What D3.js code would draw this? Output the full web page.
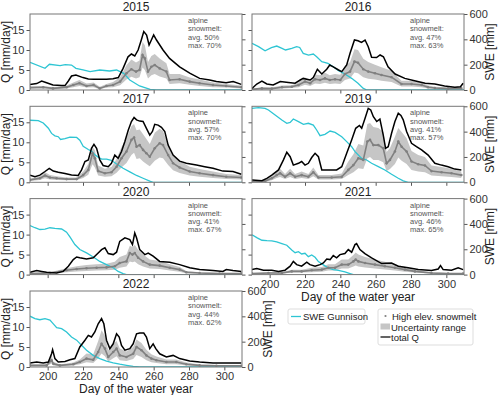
<!DOCTYPE html>
<meta charset="utf-8">
<style>
body { margin: 0; background: #fff; }
svg { font-family: "Liberation Sans", Arial, sans-serif; }
.frame { fill: none; stroke: #777; stroke-width: 1; }
.axis path { display: none; }
.axis line { stroke: #555; }
.axis text { fill: #333; font-size: 11px; }
.swe { fill: none; stroke: #2ec5d3; stroke-width: 1.3px; }
.totq { fill: none; stroke: #000; stroke-width: 1.5px; }
.melt { fill: none; stroke: #808080; stroke-width: 1.6px; }
.band { fill: #c6c6c6; }
</style>
<body>
<svg width="500" height="395"></svg>
<script src="https://cdn.jsdelivr.net/npm/d3@7"></script>
<script>

// [day, SWE mm]
var swe2015 = [[190,218],[198.5,171],[201,203],[207,192],[210,200],[213.5,197],[216,171],[220,158],[224,145],[229.5,158],[235,150],[239,158],[243,131],[246.5,79],[252,32],[258,5],[261.5,0],[310,0]];
var swe2016 = [[190,368],[193.7,342],[197.4,310],[201,334],[204,347],[207,329],[209,316],[212.5,329],[215.3,342],[217,336],[219,289],[222,276],[224.7,284],[226.6,263],[229.5,224],[233,210],[236,184],[239,153],[242.6,126],[246.4,92],[250,53],[253,13],[255,0],[310,0]];
var swe2017 = [[190,490],[194.7,487],[197.5,468],[200.4,427],[202.2,386],[204.1,367],[206,360],[207.3,338],[209.8,344],[212.6,357],[216.4,354],[218.2,332],[220.1,284],[223,259],[224.8,246],[226.7,218],[228.6,199],[230.5,183],[233.3,183],[236.1,174],[239,145],[242.7,111],[246.5,82],[250.3,54],[254,32],[257.8,9],[259.7,0],[310,0]];
var swe2019 = [[190,584],[193.7,589],[197.4,584],[199.3,571],[203.1,531],[206.9,492],[209.7,466],[211.6,473],[213.4,500],[216.3,479],[219.1,458],[221.9,466],[224.7,452],[226.6,413],[228.5,368],[231.3,379],[234.2,405],[237,394],[240.8,360],[243.6,321],[246.4,281],[248.3,242],[252.1,189],[254.9,176],[257.7,150],[261.5,124],[265.2,97],[269,63],[272.8,32],[275.6,11],[278.4,0],[310,0]];
var swe2020 = [[190,387],[192.8,370],[195.6,356],[198.5,359],[201.3,370],[204.1,365],[207.9,360],[210.7,335],[212.6,297],[215.4,237],[218.2,198],[222,171],[225.8,139],[229.5,104],[233.3,79],[237.1,54],[239.9,25],[242.7,8],[244.6,0],[310,0]];
var swe2021 = [[190,315],[192.7,292],[195.6,271],[198.4,268],[201.2,266],[204,258],[206.9,245],[209.7,232],[212.5,194],[214.4,173],[216.3,181],[218.1,163],[220,168],[221.9,142],[223.8,155],[225.7,137],[227.6,103],[230.4,77],[233.2,52],[236,39],[238.9,34],[242.6,21],[245.5,8],[247.4,0],[310,0]];
var swe2022 = [[190,401],[192.8,382],[195.6,373],[198.5,382],[201.3,370],[203.2,341],[205.1,310],[207.9,303],[210.7,276],[213.5,237],[216.4,212],[219.2,171],[222,133],[225.8,92],[229.5,66],[233.3,47],[237.1,32],[240.8,22],[244.6,13],[248.4,5],[252.1,0],[310,0]];

// [day, total Q mm/day]
var q2015 = [[190,1.4],[193.8,1.6],[196.6,2.25],[199.4,1.8],[203,1.25],[208,1.1],[209.8,1.1],[211.7,2.25],[213.5,3.5],[216,3.75],[220,3.1],[223,2.75],[226,2.7],[229.5,2.7],[233.3,2.7],[237,2.8],[240,3.1],[242.7,5.4],[245.5,8.3],[247.4,9],[249.3,8.5],[251.2,10],[253,12.5],[254.4,14.6],[256,13.75],[257.4,11.25],[258.7,12.5],[260,13.75],[261.6,12.5],[265.3,10],[269,7.9],[274.7,5.8],[280.4,4.2],[286,2.9],[291.7,2.5],[295.5,2.1],[301,1.8],[305,2.1],[309.6,1.4]];
var q2016 = [[190,0.4],[192.7,1.5],[195.6,2.25],[198.4,1.5],[202,1.25],[206,2.1],[210.6,1.9],[214.4,1.7],[217.3,2.5],[219,2.9],[221,2.7],[222.9,2.5],[224.7,3.1],[227,5.2],[229.5,4],[232.3,5.2],[234,6.25],[236,5.8],[239,5],[240.8,4.6],[243.6,6.25],[245.5,9.2],[248,12.5],[250,12.3],[252,11.9],[254,12.5],[255.8,10.8],[257.7,8.2],[260.5,8.1],[262.5,8.75],[264.4,8.3],[267,5.8],[271,4],[276.5,2.9],[282,2.3],[288,1.7],[293.5,1.5],[299,1],[304.8,0.7],[308,0.8],[309.5,1.7]];
var q2017 = [[190,1.8],[192.8,1.4],[195.6,1.8],[198.5,2.7],[200.9,3.5],[203.2,2.8],[206,2.5],[209.8,2.2],[213.5,1.8],[217.3,1.7],[219.2,3.1],[221.1,5.2],[223,5.6],[224.8,8.5],[226.2,9.5],[227.7,8.5],[229.5,5.6],[231.4,4.2],[234.3,3.9],[236.1,4.75],[238,6.8],[239.9,6],[241.8,7.7],[243.7,10.2],[245.6,13],[247.4,15.2],[248.9,16.2],[250.3,15.6],[252.1,15.3],[254,15.2],[255.9,13.5],[257.8,11.8],[259.3,12.7],[260.6,14.5],[262.5,14.3],[264.4,13.75],[266.3,12.7],[268.2,9.3],[271,6.8],[274.7,5.3],[278.5,4.75],[284.2,4.3],[288.9,3.9],[293.6,3.5],[299.2,2.8],[304.9,2.7],[309.6,2]];
var q2019 = [[190,0.6],[195.6,0.4],[198.4,1],[201.2,1.8],[205,3.1],[207.8,5.6],[209.7,7.5],[211.6,6.4],[213.4,4.3],[216.3,4.75],[218.1,5.2],[220,4.3],[221.9,4.75],[223.8,6.2],[225.7,7.25],[227.6,6.4],[229.5,3.1],[233.2,3.1],[237.9,3.1],[240.8,3.9],[243.6,7.25],[246.4,10.6],[248.7,13.5],[250.8,14.2],[252.1,13.5],[254,16],[255.8,18.5],[257.2,18.1],[258.7,16.4],[260.6,15.2],[262.4,15.8],[264.3,11.8],[265.6,8.5],[267.1,8.9],[269,12.25],[270.9,15.2],[272.8,17.25],[274.3,16.7],[275.6,15.6],[277.5,12.7],[280.3,9.75],[283.1,8.9],[286,8.1],[289.7,6.8],[293.5,4.75],[297.2,4.3],[301,3.9],[304.8,3.3],[308.5,3.1]];
var q2020 = [[190,0.6],[193.8,1],[196.6,0.8],[199.4,0.6],[205.1,0.4],[208.8,0.8],[211.7,2.1],[214.5,3.75],[216.4,4.4],[218.2,4.2],[222,3.9],[225.8,4.2],[228.6,5.4],[230.5,6.25],[232.4,6.7],[234.3,5.25],[237.1,5],[239,5.6],[240.8,8.3],[243.7,9.2],[246.5,8.75],[248,7.5],[249.3,10.4],[250.3,9.2],[252.1,6.25],[255,5],[256.9,5.4],[259.7,4.6],[263.4,3.3],[269.1,3.1],[274.7,2.5],[280.4,1.7],[286,1.25],[293.6,1],[299.2,0.8],[301.1,1.25],[304.9,1],[309.6,0.8]];
var q2021 = [[190,1.25],[192.7,1.5],[196.5,1.1],[201.2,1.1],[205,0.8],[208.7,1.1],[211.6,2.1],[213.4,3.3],[215.3,2.5],[218.1,2.1],[221,3.1],[222.8,2.5],[225.7,2.1],[228.5,2.5],[230.4,2.9],[232.3,3.9],[234.2,3.75],[236,4.75],[237.9,4.2],[239.8,5],[242.6,5.25],[244.5,6.25],[246.4,5.6],[248.3,7.5],[249.2,7.75],[251.1,6.25],[253.9,5.25],[257.7,4.2],[263.4,2.75],[269,2.9],[272.8,2.1],[278.4,1.7],[284.1,1.25],[291.6,1],[295.4,1.4],[296.7,2.25],[298.2,1.25],[302.9,1.1],[306.7,1.7],[309.5,1.25]];
var q2022 = [[190,1],[193.8,1.25],[197.5,1],[200.4,1.25],[202.2,3.3],[202.8,4.3],[204.1,2.1],[206,1.25],[209.8,1.4],[212.6,1.8],[215.4,2.1],[218.2,5],[221.1,6.7],[223,7.9],[224.8,7.5],[226.7,8.75],[228.6,10.8],[230.5,12.1],[231.8,10.8],[233.3,6.7],[235.2,4.6],[237.1,5.8],[239,8.3],[240.5,7.5],[241.8,5.4],[243.7,4.2],[246.5,4.6],[248.4,5.8],[250.3,8.3],[252.1,8.5],[254.4,8.5],[255.9,7.5],[257.8,4.6],[259.7,5.8],[261.2,4.6],[263.4,3.3],[267.2,2.5],[271,2.9],[274.7,2.1],[280.4,1.5],[286,1.25],[293.6,1],[299.2,1],[304.9,1],[309.6,1]];

// [day, high elev. snowmelt, uncertainty low, uncertainty high]
var melt2015 = [[190,0.6,0.3,0.9],[197.5,0.7,0.4,1.0],[203,0.4,0.2,0.7],[210.7,0.7,0.4,1.1],[214.5,1.25,0.7,1.9],[218,1.7,1.0,2.5],[222,1.0,0.6,1.6],[226,1.25,0.7,1.9],[229.5,0.4,0.2,0.8],[233.3,1.0,0.6,1.5],[237,1.25,0.7,2.0],[241,2.1,1.2,3.2],[244.6,4.2,2.6,6.2],[247.4,5.2,3.3,7.6],[250,4.6,2.9,6.9],[252,5.0,3.2,7.4],[253.7,8.75,5.6,12.0],[255,7.9,5.0,11.2],[256.8,4.6,2.9,7.0],[258.7,5.8,3.7,8.5],[260.6,6.25,4.0,9.0],[263.4,5.4,3.4,7.9],[267.2,4.6,2.9,6.7],[269,2.5,1.5,4.0],[274.7,2.7,1.7,4.0],[280.4,2.1,1.3,3.1],[286,1.7,1.0,2.6],[293.6,1.25,0.7,1.9],[301,1.0,0.6,1.5],[309.6,0.7,0.4,1.1]];
var melt2016 = [[190,0.15,0.05,0.3],[195.6,0.4,0.2,0.6],[201.2,0.35,0.2,0.6],[207,0.7,0.4,1.1],[212.5,0.8,0.5,1.2],[216.3,1.25,0.7,1.9],[220,2.1,1.3,3.1],[222.9,1.7,1.0,2.5],[225.7,2.7,1.6,3.9],[228.5,2.5,1.5,3.7],[231.3,2.9,1.8,4.3],[234,2.5,1.5,3.7],[237,2.7,1.6,4.0],[240,2.5,1.5,3.8],[242.6,4.0,2.5,6.0],[245.5,4.6,2.9,7.0],[248,7.1,4.4,10.2],[250,6.8,4.2,10.0],[253,5.2,3.2,7.8],[255.8,4.6,2.8,7.0],[259.6,4.2,2.6,6.3],[263.3,3.75,2.3,5.7],[269,3.2,2.0,4.8],[274.6,1.5,0.9,2.3],[280.3,1.5,0.9,2.3],[286,1.25,0.7,1.9],[289.7,0.7,0.4,1.1],[293.5,0.5,0.3,0.8],[301,0.35,0.2,0.6],[308.5,0.4,0.2,0.6]];
var melt2017 = [[190,0.6,0.3,0.9],[195.6,1.0,0.6,1.5],[198.5,1.7,1.0,2.5],[201.3,1.2,0.7,1.8],[205.1,1.0,0.6,1.5],[210.7,0.8,0.5,1.2],[216.4,0.8,0.5,1.2],[220.1,1.8,1.1,2.7],[223,3.1,1.9,4.6],[225.4,7.25,4.5,8.8],[226.7,6.0,3.7,8.0],[228.6,2.8,1.7,4.2],[232.4,2.25,1.4,3.4],[236.1,2.5,1.5,3.8],[239,3.9,2.4,5.8],[241.8,6.0,3.7,8.8],[244.6,7.7,4.8,11.0],[247.4,10.6,6.8,14.0],[248.9,11.2,7.4,14.6],[250.3,8.9,5.8,13.0],[252.1,9.3,6.0,13.2],[254,8.1,5.2,12.0],[255.9,7.25,4.6,10.8],[257.8,6.4,4.0,9.6],[260.6,8.5,5.4,12.4],[263.4,9.75,6.2,13.4],[265.3,9.3,6.0,12.8],[268.2,6.8,4.3,9.4],[271,4.75,3.0,6.8],[274.7,3.7,2.3,5.3],[280.4,2.7,1.7,3.9],[286,2.25,1.4,3.3],[293.6,1.8,1.1,2.7],[301.1,1.4,0.8,2.1],[309.6,1.2,0.7,1.8]];
var melt2019 = [[190,0.15,0.05,0.3],[197.4,0.3,0.1,0.5],[201.2,1.0,0.5,1.6],[204,1.8,1.1,2.8],[205.9,2.25,1.3,3.4],[208.7,1.4,0.8,2.1],[211.6,2.25,1.3,3.4],[214.4,1.4,0.8,2.1],[218.1,1.8,1.1,2.7],[221.9,1.4,0.8,2.1],[224.7,2.5,1.5,3.7],[227.6,1.2,0.7,1.8],[235.1,1.2,0.7,1.8],[240.8,1.4,0.8,2.2],[244.5,3.1,1.8,5.2],[247.4,4.3,2.5,7.0],[250.2,6.0,3.5,9.6],[253,5.6,3.3,9.2],[255.3,10.2,6.0,14.6],[256.8,10.6,6.3,14.8],[258.7,9.3,5.6,13.8],[261.5,9.3,5.6,13.6],[264.3,8.5,5.0,12.6],[266.2,4.75,2.8,7.6],[268.1,5.6,3.3,8.6],[270.9,7.7,4.6,11.4],[272.8,10.2,6.2,13.6],[274.7,8.9,5.4,12.6],[277.5,7.7,4.6,11.0],[280.3,5.2,3.1,7.8],[284.1,4.5,2.7,6.8],[287.9,4.2,2.5,6.3],[291.6,2.8,1.7,4.2],[297.3,2.5,1.5,3.8],[302.9,2.25,1.3,3.4],[308.5,1.8,1.1,2.7]];
var melt2020 = [[190,0.25,0.1,0.4],[201.3,0.4,0.2,0.6],[210.7,1.1,0.6,1.6],[216.4,1.4,0.8,2.1],[222,1.6,0.9,2.4],[227.7,1.7,1.0,2.6],[233.3,1.8,1.1,2.7],[238,2.1,1.2,3.2],[240.8,2.9,1.7,4.4],[244.6,3.3,2.0,5.0],[246.5,5.4,3.3,7.2],[248,5.0,3.1,6.9],[249.3,5.4,3.3,7.4],[251.2,4.2,2.6,6.2],[254,3.3,2.0,5.0],[257.8,2.5,1.5,3.8],[263.4,2.25,1.4,3.4],[269.1,1.7,1.0,2.6],[274.7,1.25,0.7,1.9],[278.5,0.6,0.3,0.9],[286,0.4,0.2,0.6],[297.3,0.25,0.1,0.4],[309.6,0.25,0.1,0.4]];
var melt2021 = [[190,0.25,0.1,0.4],[199.3,0.4,0.2,0.6],[206.9,0.4,0.2,0.6],[212.5,0.8,0.5,1.2],[218.1,0.8,0.5,1.2],[223.8,1.1,0.6,1.7],[229.5,1.25,0.7,1.9],[233.2,1.7,1.0,2.6],[237,1.7,1.0,2.6],[240.8,2.5,1.5,3.8],[244.5,2.5,1.5,3.8],[247.4,3.3,2.0,4.9],[248.7,3.75,2.3,5.5],[250.2,3.3,2.0,5.0],[254,2.9,1.8,4.4],[259.6,2.5,1.5,3.8],[265.2,2.1,1.3,3.2],[270.9,1.7,1.0,2.6],[276.5,1.25,0.7,1.9],[282.2,0.8,0.5,1.2],[291.6,0.4,0.2,0.6],[301,0.25,0.1,0.4],[309.5,0.25,0.1,0.4]];
var melt2022 = [[190,0.4,0.2,0.6],[199.4,0.4,0.2,0.6],[202.2,1.7,0.9,3.2],[203.2,0.8,0.4,1.3],[206.9,0.4,0.2,0.6],[214.5,0.7,0.4,1.1],[218.2,1.25,0.7,1.9],[222,2.1,1.2,3.4],[225.8,1.8,1.0,3.2],[228.6,3.75,2.2,6.5],[230.5,5.8,3.4,9.2],[232.4,4.6,2.7,7.8],[234.3,2.5,1.4,4.2],[237.1,3.75,2.2,5.8],[239,4.6,2.7,6.5],[240.8,2.9,1.7,4.6],[244.6,2.5,1.5,3.9],[248.4,3.3,2.0,5.0],[250.3,5.0,3.0,6.9],[253.1,4.2,2.5,6.0],[255.9,2.9,1.7,4.3],[258.7,2.1,1.2,3.2],[261.6,1.7,1.0,2.6],[267.2,1.25,0.7,1.9],[272.8,1.25,0.7,1.9],[278.5,0.7,0.4,1.1],[286,0.4,0.2,0.6],[295.5,0.3,0.1,0.5],[309.6,0.3,0.1,0.5]];

var years = ["2015", "2016", "2017", "2019", "2020", "2021", "2022"];
var avgPct = [50, 47, 57, 41, 41, 46, 44];
var maxPct = [70, 63, 70, 57, 67, 65, 62];
var sweSeries = [swe2015, swe2016, swe2017, swe2019, swe2020, swe2021, swe2022];
var qSeries = [q2015, q2016, q2017, q2019, q2020, q2021, q2022];
var meltSeries = [melt2015, melt2016, melt2017, melt2019, melt2020, melt2021, melt2022];

var xTicks = [200, 220, 240, 260, 280, 300];
var qTicks = [0, 5, 10, 15];
var sweTicks = [0, 200, 400, 600];

var svg = d3.select("svg"),
    pw = 212, ph = 76,
    colX = [30, 252],
    rowY = [14, 106.3, 198.6, 291];

var x = d3.scaleLinear().domain([190, 310]).range([0, pw]),
    y = d3.scaleLinear().domain([0, 19]).range([ph, 0]),
    ys = d3.scaleLinear().domain([0, 600]).range([ph, 0]);

var sweLine = d3.line().x(function(d) { return x(d[0]); }).y(function(d) { return ys(d[1]); });
var qLine = d3.line().x(function(d) { return x(d[0]); }).y(function(d) { return y(d[1]); });
var band = d3.area().x(function(d) { return x(d[0]); }).y0(function(d) { return y(d[2]); }).y1(function(d) { return y(d[3]); });

years.forEach(function(yr, i) {
  var col = i % 2, row = Math.floor(i / 2);
  var g = svg.append("g").attr("transform", "translate(" + colX[col] + "," + rowY[row] + ")");
  var leftLabels = col === 0,
      rightLabels = col === 1 || i === 6,
      bottomLabels = i === 5 || i === 6;

  g.append("clipPath").attr("id", "clip" + i)
    .append("rect").attr("width", pw).attr("height", ph);
  var p = g.append("g").attr("clip-path", "url(#clip" + i + ")");

  p.append("path").attr("class", "band").attr("d", band(meltSeries[i]));
  p.append("path").attr("class", "swe").attr("d", sweLine(sweSeries[i]));
  p.append("path").attr("class", "melt").attr("d", qLine(meltSeries[i]));
  p.selectAll(".dot").data(meltSeries[i]).enter().append("circle")
      .attr("cx", function(d) { return x(d[0]); })
      .attr("cy", function(d) { return y(d[1]); })
      .attr("r", 1.3).attr("fill", "#808080");
  p.append("path").attr("class", "totq").attr("d", qLine(qSeries[i]));

  g.append("g").attr("class", "axis").attr("transform", "translate(0," + ph + ")")
    .call(d3.axisBottom(x).tickValues(xTicks).tickSize(3.5).tickPadding(2)
      .tickFormat(bottomLabels ? d3.format("d") : ""));
  g.append("g").attr("class", "axis")
    .call(d3.axisLeft(y).tickValues(qTicks).tickSize(3.5).tickPadding(2)
      .tickFormat(leftLabels ? d3.format("d") : ""));
  g.append("g").attr("class", "axis").attr("transform", "translate(" + pw + ",0)")
    .call(d3.axisRight(ys).tickValues(sweTicks).tickSize(3.5).tickPadding(2)
      .tickFormat(rightLabels ? d3.format("d") : ""));

  g.append("rect").attr("class", "frame").attr("width", pw).attr("height", ph);

  g.append("text").attr("x", pw / 2).attr("y", -3).attr("text-anchor", "middle")
    .style("font-size", "12px").style("fill", "#222").text(yr);

  var note = g.append("text").attr("x", pw - 54).attr("y", 9)
    .style("font-size", "7.5px").style("fill", "#555");
  ["alpine", "snowmelt:", "avg. " + avgPct[i] + "%", "max. " + maxPct[i] + "%"].forEach(function(t, k) {
    note.append("tspan").attr("x", pw - 54).attr("dy", k ? 8.3 : 0).text(t);
  });

  if (leftLabels) {
    g.append("text").attr("transform", "rotate(-90)").attr("x", -ph / 2).attr("y", -20)
      .attr("text-anchor", "middle").style("font-size", "12px").style("fill", "#222").text("Q [mm/day]");
  }
  if (rightLabels) {
    g.append("text").attr("transform", "rotate(-90)").attr("x", -ph / 2).attr("y", pw + 30)
      .attr("text-anchor", "middle").style("font-size", "12px").style("fill", "#222").text("SWE [mm]");
  }
  if (bottomLabels) {
    g.append("text").attr("x", pw / 2).attr("y", ph + 26).attr("text-anchor", "middle")
      .style("font-size", "12px").style("fill", "#222").text("Day of the water year");
  }
});

// legends
var leg = svg.append("g").style("font-size", "9.5px").style("fill", "#222");
leg.append("rect").attr("x", 288).attr("y", 309).attr("width", 77).attr("height", 15)
  .attr("rx", 2).style("fill", "#fff").attr("stroke", "#ddd");
leg.append("line").attr("x1", 291).attr("x2", 301).attr("y1", 316.5).attr("y2", 316.5)
  .attr("stroke", "#2ec5d3").attr("stroke-width", 1.3);
leg.append("text").attr("x", 303).attr("y", 320).text("SWE Gunnison");

leg.append("rect").attr("x", 378).attr("y", 309).attr("width", 95).attr("height", 36)
  .attr("rx", 2).style("fill", "#fff").attr("stroke", "#ddd");
leg.append("circle").attr("cx", 385.5).attr("cy", 316).attr("r", 1.1).style("fill", "#808080");
leg.append("text").attr("x", 392).attr("y", 320).text("High elev. snowmelt");
leg.append("rect").attr("x", 380.5).attr("y", 323.5).attr("width", 9.5).attr("height", 6).style("fill", "#c6c6c6");
leg.append("text").attr("x", 391).attr("y", 330.5).text("Uncertainty range");
leg.append("line").attr("x1", 380.5).attr("x2", 390.5).attr("y1", 337).attr("y2", 337)
  .attr("stroke", "#222").attr("stroke-width", 1.4);
leg.append("text").attr("x", 391).attr("y", 340.5).text("total Q");

</script>
</body>
